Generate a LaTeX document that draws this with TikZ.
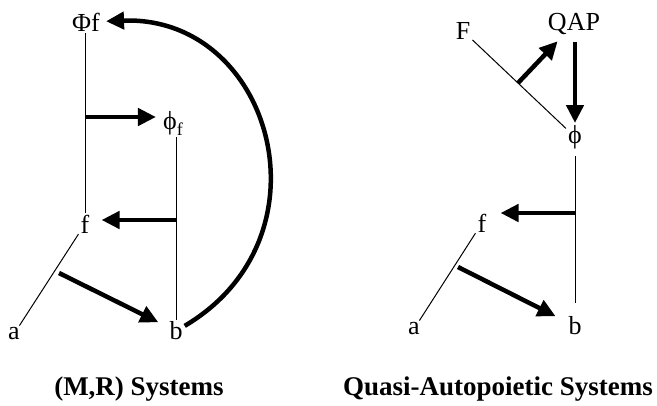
\documentclass[tikz,border=0pt]{standalone}
\usepackage{fontspec}
\setmainfont{Liberation Serif}
\usetikzlibrary{arrows.meta}

\tikzset{
  lbl/.style={font=\fontsize{26}{30}\selectfont,inner sep=2pt},
  sysname/.style={font=\fontsize{27}{32}\selectfont\bfseries,anchor=base},
  wire/.style={line width=1pt},
  push/.style={line width=4.5pt,-{Triangle[length=18pt,width=17pt]}}
}

\begin{document}
\begin{tikzpicture}[x=1pt,y=-1pt]
  \useasboundingbox (0,0) rectangle (657,405);
  % (M,R) system
  \node[lbl] (Phi) at (86,22) {Φf};
  \node[lbl] (phif) at (173,123) {ϕ\raisebox{-6pt}{\fontsize{18}{18}\selectfont f}};
  \node[lbl] (f) at (85,224) {f};
  \node[lbl] (a) at (14,334) {a};
  \node[lbl] (b) at (176,331) {b};
  \draw[wire] (f |- Phi.south) -- (f);
  \draw[wire] (b |- phif.south) -- (b);
  \draw[wire] (a) -- (f);
  \coordinate (m1) at (85,117);
  \coordinate (m2) at (176,220);
  \coordinate (m3) at (59,273);
  \draw[push,shorten >=5pt] (m1) -- (m1 -| phif.west);
  \draw[push,shorten >=10pt] (m2) -- (m2 -| f.east);
  \draw[push,shorten >=10pt] (m3) -- (b);
  \draw[push,shorten >=4pt] (b) .. controls +(159,-94) and +(186,-7) .. (Phi);
  % quasi-autopoietic system
  \node[lbl] (F) at (463,31) {F};
  \node[lbl] (QAP) at (574,24) {QAP};
  \node[lbl] (phi) at (575,137) {ϕ};
  \node[lbl] (f2) at (482,223) {f};
  \node[lbl] (a2) at (414,329) {a};
  \node[lbl] (b2) at (575,326) {b};
  \draw[wire] (F) -- (phi);
  \draw[wire,shorten <=5pt,shorten >=12pt] (phi) -- (b2);
  \draw[wire] (a2) -- (f2);
  \coordinate (m4) at (518,83);
  \coordinate (m5) at (575,213);
  \coordinate (m6) at (458,267);
  \draw[push,shorten >=6pt] (m4) -- (QAP);
  \draw[push,shorten <=5pt] (QAP.south -| phi) -- (phi);
  \draw[push,shorten >=12pt] (m5) -- (m5 -| f2.east);
  \draw[push,shorten >=12pt] (m6) -- (b2);
  % captions
  \node[sysname] (capMR) at (139,395) {(M,R) Systems};
  \node[sysname] (capQAP) at (498,395) {Quasi-Autopoietic Systems};
\end{tikzpicture}
\end{document}
